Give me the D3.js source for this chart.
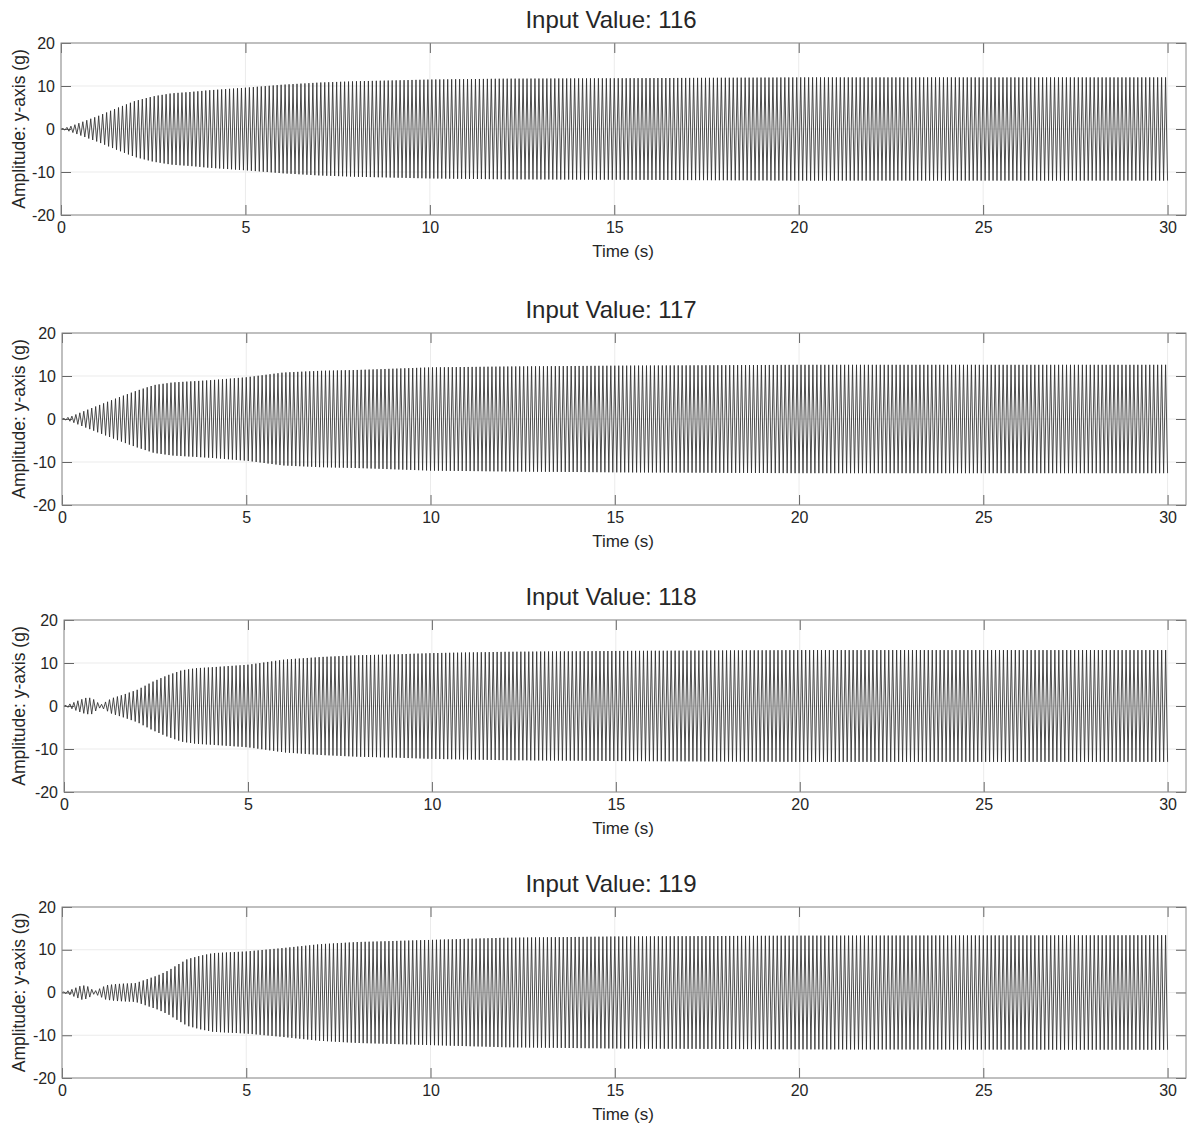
<!DOCTYPE html>
<html>
<head>
<meta charset="utf-8">
<script src="https://cdn.jsdelivr.net/npm/d3@7"></script>
<style>
    body { margin: 0; background: #fff; }
    svg { display: block; }
    text { font-family: "Liberation Sans", Arial, Helvetica, sans-serif; fill: #262626; }
</style>
</head>
<body>
<div id="chart"></div>
<script>
// panel titles
const inputValues = [116, 117, 118, 119];

// envelope of the oscillation: [time (s), peak amplitude (g)]
const envelope116 = [[0, 0], [0.25, 0.6], [0.5, 1.4], [1, 3.0], [1.5, 4.8], [2, 6.5], [2.5, 7.6], [3, 8.3], [3.5, 8.6],
    [4, 9.0], [5, 9.6], [6, 10.3], [7, 10.8], [8, 11.1], [9, 11.3], [10, 11.5], [12, 11.7], [15, 11.8], [20, 12.0], [30, 12.0]];
const envelope117 = [[0, 0], [0.25, 0.6], [0.5, 1.5], [1, 3.2], [1.5, 4.9], [2, 6.5], [2.5, 7.9], [3, 8.5], [4, 9.0],
    [5, 9.7], [6, 10.8], [7, 11.2], [8, 11.4], [9, 11.7], [10, 12.0], [12, 12.2], [15, 12.4], [20, 12.6], [30, 12.6]];
const envelope118 = [[0, 0], [0.2, 0.6], [0.4, 1.3], [0.6, 1.9], [0.75, 1.9], [0.9, 0.9], [1.0, 0.3], [1.1, 0.8], [1.3, 1.8],
    [1.6, 2.6], [2, 3.8], [2.4, 5.6], [2.8, 7.1], [3.2, 8.3], [3.6, 8.8], [4, 9.0], [5, 9.6], [6, 10.8], [7, 11.4], [8, 11.8],
    [9, 12.0], [10, 12.3], [12, 12.6], [15, 12.8], [20, 13.0], [30, 13.0]];
const envelope119 = [[0, 0], [0.2, 0.5], [0.4, 1.2], [0.55, 1.7], [0.7, 1.4], [0.88, 0.3], [1.0, 0.8], [1.2, 1.7], [1.5, 2.0],
    [2.0, 2.2], [2.2, 2.8], [2.6, 4.0], [2.9, 5.2], [3.1, 6.3], [3.4, 7.8], [3.75, 8.6], [4.1, 9.2], [5, 9.6], [6, 10.4],
    [7, 11.3], [8, 11.8], [10, 12.3], [12, 12.8], [15, 13.1], [20, 13.3], [30, 13.4]];

// oscillation rate seen in each panel (cycles per second)
const carrierHz = [9.3, 9.3, 9.3, 9.3];

// axis ticks
const xTicks = [0, 5, 10, 15, 20, 25, 30];
const yTicks = [-20, -10, 0, 10, 20];

const envelopes = [envelope116, envelope117, envelope118, envelope119];

/*
    One subplot: boxed axes, grid, and the oscillation trace
*/
SignalPanel = function(_svg, _box, _title, _envelope, _hz) {
    this.svg = _svg;
    this.box = _box;
    this.title = _title;
    this.envelope = _envelope;
    this.hz = _hz;

    this.initVis();
}

SignalPanel.prototype.initVis = function() {
    let vis = this;
    let b = vis.box;

    vis.width = b.right - b.left;
    vis.height = b.bottom - b.top;

    vis.x = d3.scaleLinear().domain([0, 30.5]).range([0, vis.width]);
    vis.y = d3.scaleLinear().domain([-20, 20]).range([vis.height, 0]);

    vis.g = vis.svg.append("g")
        .attr("transform", "translate(" + b.left + "," + b.top + ")");

    // grid
    vis.g.selectAll(".xgrid")
        .data(xTicks)
        .enter()
        .append("line")
        .attr("x1", (d) => vis.x(d))
        .attr("x2", (d) => vis.x(d))
        .attr("y1", 0)
        .attr("y2", vis.height)
        .attr("stroke", "#ebebeb")
        .attr("stroke-width", 1);

    vis.g.selectAll(".ygrid")
        .data(yTicks)
        .enter()
        .append("line")
        .attr("x1", 0)
        .attr("x2", vis.width)
        .attr("y1", (d) => vis.y(d))
        .attr("y2", (d) => vis.y(d))
        .attr("stroke", "#ebebeb")
        .attr("stroke-width", 1);

    vis.wrangleData();
}

SignalPanel.prototype.wrangleData = function() {
    let vis = this;

    let env = d3.scaleLinear()
        .domain(vis.envelope.map((d) => d[0]))
        .range(vis.envelope.map((d) => d[1]))
        .clamp(true);

    // one point per half swing, alternating sign, scaled by the envelope
    let halfPeriod = 1 / (2 * vis.hz);
    let n = Math.floor(30 / halfPeriod);
    vis.trace = d3.range(n + 1).map((k) => {
        let t = k * halfPeriod;
        return { t: t, v: (k % 2 === 0 ? -1 : 1) * env(t) };
    });

    vis.updateVis();
}

SignalPanel.prototype.updateVis = function() {
    let vis = this;

    let line = d3.line()
        .x((d) => vis.x(d.t))
        .y((d) => vis.y(d.v));

    vis.g.append("path")
        .datum(vis.trace)
        .attr("d", line)
        .attr("fill", "none")
        .attr("stroke", "#2e2e2e")
        .attr("stroke-width", 0.85);

    // axes: ticks inward, on all four sides
    let tickLen = 10;
    let plain = (d) => String(d);   // hyphen minus, like the original
    vis.g.append("g")
        .attr("transform", "translate(0," + vis.height + ")")
        .call(d3.axisBottom(vis.x).tickValues(xTicks).tickSizeInner(-tickLen).tickSizeOuter(0).tickPadding(7).tickFormat(plain))
        .call((g) => g.select(".domain").remove());
    vis.g.append("g")
        .call(d3.axisTop(vis.x).tickValues(xTicks).tickSizeInner(-tickLen).tickSizeOuter(0).tickFormat(""))
        .call((g) => g.select(".domain").remove());
    vis.g.append("g")
        .call(d3.axisLeft(vis.y).tickValues(yTicks).tickSizeInner(-tickLen).tickSizeOuter(0).tickPadding(6).tickFormat(plain))
        .call((g) => g.select(".domain").remove());
    vis.g.append("g")
        .attr("transform", "translate(" + vis.width + ",0)")
        .call(d3.axisRight(vis.y).tickValues(yTicks).tickSizeInner(-tickLen).tickSizeOuter(0).tickFormat(""))
        .call((g) => g.select(".domain").remove());

    vis.g.selectAll(".tick line").attr("stroke", "#404040").attr("stroke-width", 0.8);
    vis.g.selectAll(".tick text")
        .attr("font-size", 16)
        .attr("font-family", "Liberation Sans, Arial, sans-serif")
        .attr("fill", "#262626");

    vis.g.append("rect")
        .attr("width", vis.width)
        .attr("height", vis.height)
        .attr("fill", "none")
        .attr("stroke", "#8a8a8a")
        .attr("stroke-width", 1);

    // labels
    vis.svg.append("text")
        .attr("x", 611)
        .attr("y", vis.box.top - 15)
        .attr("text-anchor", "middle")
        .attr("font-size", 24)
        .attr("fill", "#111")
        .text("Input Value: " + vis.title);

    vis.svg.append("text")
        .attr("x", 623)
        .attr("y", vis.box.bottom + 42)
        .attr("text-anchor", "middle")
        .attr("font-size", 17)
        .text("Time (s)");

    vis.svg.append("text")
        .attr("transform", "translate(25," + (vis.box.top + vis.height / 2) + ") rotate(-90)")
        .attr("text-anchor", "middle")
        .attr("font-size", 17.5)
        .text("Amplitude: y-axis (g)");
}

let svg = d3.select("#chart")
    .append("svg")
    .attr("width", 1187)
    .attr("height", 1124);

let boxes = [
    { left: 61, right: 1186, top: 43, bottom: 215 },
    { left: 62, right: 1186, top: 333, bottom: 505 },
    { left: 64, right: 1186, top: 620, bottom: 792 },
    { left: 62, right: 1186, top: 907, bottom: 1078 }
];

let panels = inputValues.map((v, i) => new SignalPanel(svg, boxes[i], v, envelopes[i], carrierHz[i]));
</script>
</body>
</html>
